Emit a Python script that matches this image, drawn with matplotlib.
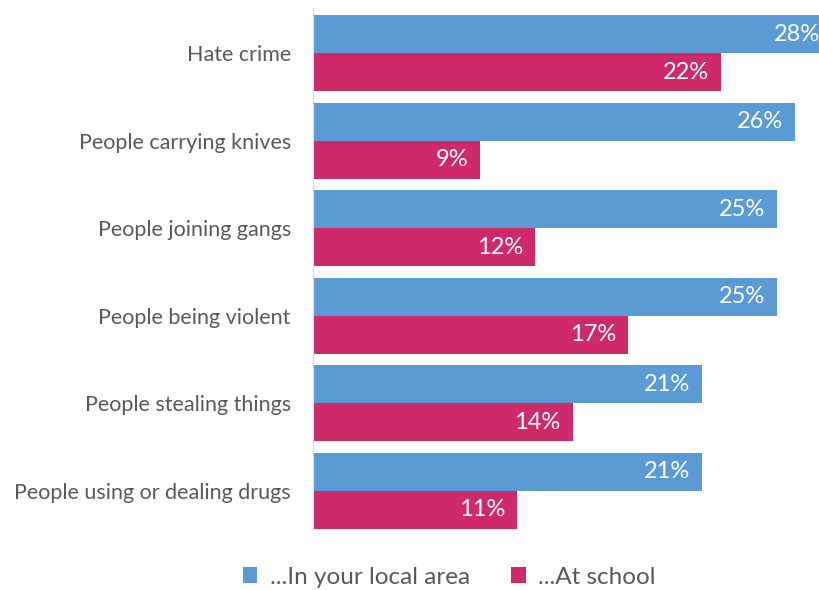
import matplotlib.pyplot as plt
import numpy as np

# Survey categories and shares (%)
categories = [
    "Hate crime",
    "People carrying knives",
    "People joining gangs",
    "People being violent",
    "People stealing things",
    "People using or dealing drugs",
]
local_area = [28, 26, 25, 25, 21, 21]
at_school = [22, 9, 12, 17, 14, 11]

blue = "#5B9BD5"
pink = "#CE2A6A"
grey = "#595959"

plt.rcParams["font.family"] = ["Lato", "DejaVu Sans"]

fig = plt.figure(figsize=(8.19, 5.90), dpi=100)
ax = fig.add_axes([313 / 819, 1 - 530 / 590, 1 - 313 / 819, 522 / 590])

y = np.arange(len(categories))
band = 87.5  # pixels per category
h = 38 / band

b1 = ax.barh(y - h / 2, local_area, height=h, color=blue, label="...In your local area")
b2 = ax.barh(y + h / 2, at_school, height=h, color=pink, label="...At school")

# value labels inside the bar ends
for bars, vals in ((b1, local_area), (b2, at_school)):
    for bar, v in zip(bars, vals):
        ax.annotate(f"{v}%", (v, bar.get_y() + bar.get_height() / 2),
                    xytext=(-8.5, 0), textcoords="offset points",
                    ha="right", va="center", color="white", fontsize=17,
                    annotation_clip=False)

ax.set_xlim(0, 506 / 18.54)
top = -h - 7 / band
ax.set_ylim(top + 522 / band, top)
ax.set_yticks(y)
ax.set_yticklabels(categories, fontsize=15.5, color=grey)
ax.tick_params(axis="y", length=0, pad=16)
ax.set_xticks([])
for s in ("top", "right", "bottom"):
    ax.spines[s].set_visible(False)
ax.spines["left"].set_color("#D9D9D9")

fig.legend(handles=[b1, b2], loc="center", bbox_to_anchor=(449 / 819, 1 - 577 / 590),
           ncol=2, frameon=False, fontsize=17.5, labelcolor=grey,
           handlelength=0.6, handleheight=0.6, handletextpad=0.5, columnspacing=1.7)

fig.savefig("out.png", dpi=100)
